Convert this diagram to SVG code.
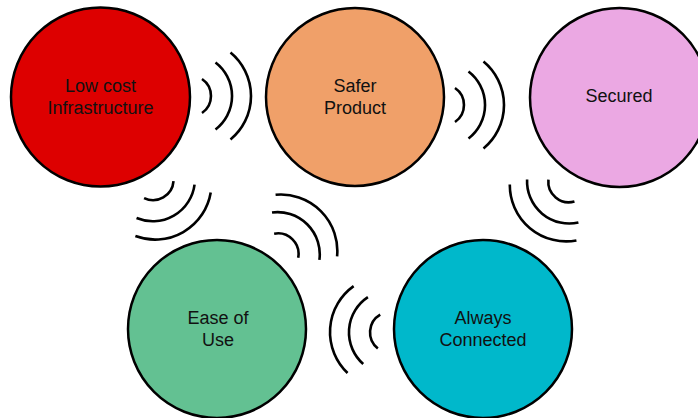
<svg xmlns="http://www.w3.org/2000/svg" xmlns:xlink="http://www.w3.org/1999/xlink" width="698" height="418" viewBox="0 0 698 418">
<style>
.node{stroke:#000;stroke-width:2.5}
.lbl{font-family:"Liberation Sans",Arial,sans-serif;font-size:18px;fill:#111;text-anchor:middle}
.arc{fill:none;stroke:#000;stroke-width:2.6}
</style>
<defs>
<g id="wave">
<path class="arc" d="M11,-17 A20.6,20.6 0 0 1 11,17"/>
<path class="arc" d="M24.5,-33.5 A42.2,42.2 0 0 1 24.5,33.5"/>
<path class="arc" d="M39.5,-43.5 A56.4,56.4 0 0 1 39.5,43.5"/>
</g>
</defs>
<rect width="698" height="418" fill="#fff"/>
<g id="connectors">
<use xlink:href="#wave" transform="translate(191,96)"/>
<use xlink:href="#wave" transform="translate(444,105)"/>
<use xlink:href="#wave" transform="translate(153.3,180.1) rotate(60)"/>
<use xlink:href="#wave" transform="translate(278.4,253.5) rotate(-45)"/>
<use xlink:href="#wave" transform="translate(568.5,182.2) rotate(130)"/>
<use xlink:href="#wave" transform="translate(390,332.3) rotate(184)"/>
</g>
<g id="node-lowcost">
<circle class="node" cx="100.5" cy="97" r="89.5" fill="#DD0000"/>
<text class="lbl" x="100.5" y="92">Low cost</text>
<text class="lbl" x="100.5" y="114">Infrastructure</text>
</g>
<g id="node-safer">
<circle class="node" cx="355" cy="97" r="89" fill="#F0A069"/>
<text class="lbl" x="355" y="92">Safer</text>
<text class="lbl" x="355" y="114">Product</text>
</g>
<g id="node-secured">
<circle class="node" cx="619.5" cy="97.5" r="89.5" fill="#EBA8E3"/>
<text class="lbl" x="619" y="102">Secured</text>
</g>
<g id="node-ease">
<circle class="node" cx="217" cy="329" r="89" fill="#63C192"/>
<text class="lbl" x="218" y="324">Ease of</text>
<text class="lbl" x="218" y="346">Use</text>
</g>
<g id="node-connected">
<circle class="node" cx="483" cy="329" r="89" fill="#00B8CB"/>
<text class="lbl" x="483" y="324">Always</text>
<text class="lbl" x="483" y="346">Connected</text>
</g>
</svg>
